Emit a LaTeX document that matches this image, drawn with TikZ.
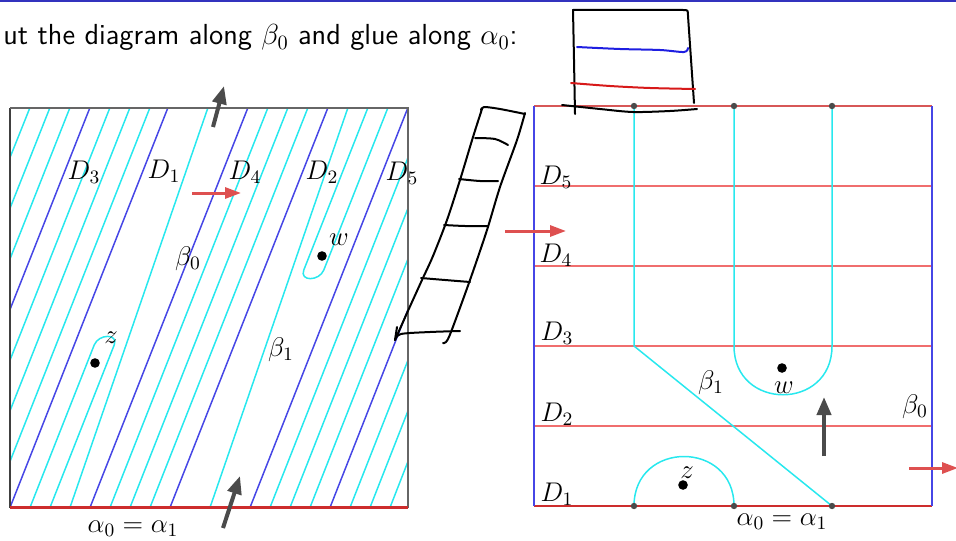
\RequirePackage{fix-cm}
\documentclass[tikz,border=0pt]{standalone}
\usepackage{fontspec}
\usetikzlibrary{arrows.meta}
\definecolor{cyanc}{RGB}{40,232,238}
\definecolor{bluec}{RGB}{70,70,230}
\definecolor{redl}{RGB}{240,110,110}
\definecolor{redd}{RGB}{205,45,45}
\definecolor{grayA}{RGB}{75,75,75}
\definecolor{redA}{RGB}{222,80,80}
\definecolor{topblue}{RGB}{50,50,190}
\definecolor{penblue}{RGB}{30,30,225}
\definecolor{penred}{RGB}{215,25,25}
\begin{document}
\begin{tikzpicture}[x=0.5pt,y=-0.5pt,
  cy/.style={draw=cyanc, line width=0.75pt},
  bl/.style={draw=bluec, line width=0.75pt},
  redline/.style={draw=redl, line width=1pt},
  grayarrow/.style={draw=grayA, line width=2pt, -{Triangle[length=9pt,width=7pt]}},
  redarrow/.style={draw=redA, line width=1.5pt, -{Triangle[length=8pt,width=5.5pt]}},
  pen/.style={draw=black, line width=1pt, line cap=round, line join=round},
  lab/.style={inner sep=0, font=\fontsize{13.5}{16}\selectfont},
  dot/.style={fill=black},
  gdot/.style={fill=grayA}]
\useasboundingbox (0,0) rectangle (956,540);
\draw[topblue, line width=1pt] (0,1) -- (956,1);
\node[anchor=base west, inner sep=0, font=\sffamily\fontsize{14.5}{17}\selectfont] (title) at (3,45) {ut the diagram along $\beta_0$ and glue along $\alpha_0$:};

% ---------- left square ----------
\foreach \b in {10,90,170,250} \draw[bl] (\b,507.5) -- ({\b+158},107.5);
\draw[bl] (330,507.5) -- (408,309.5) (10,309.5) -- (90,107.5);
\foreach \b in {110,130,150} \draw[cy] (\b,507.5) -- ({\b+158},107.5);
\draw[cy] (270,507.5) -- (408,157.6) (10,157.6) -- (30,107.5);
\draw[cy] (290,507.5) -- (408,208.3) (10,208.3) -- (50,107.5);
\draw[cy] (310,507.5) -- (408,258.9) (10,258.9) -- (70,107.5);
\draw[cy] (350,507.5) -- (408,360.2) (10,360.2) -- (110,107.5);
\draw[cy] (370,507.5) -- (408,410.8) (10,410.8) -- (130,107.5);
\draw[cy] (390,507.5) -- (408,461.4) (10,461.4) -- (150,107.5);
% finger around z
\draw[cy] (30,507.5) -- (94.2,345) .. controls (98.8,333.5) and (118.8,333.5) .. (114.2,345) -- (50,507.5);
% drifting strands
\draw[cy] (70,507.5) -- (208,107.5);
\draw[cy] (210,507.5) -- (348,107.5);
% finger around w
\draw[cy] (368,107.5) -- (303.8,270) .. controls (299.2,281.5) and (319.2,281.5) .. (323.8,270) -- (388,107.5);
% frame
\draw[draw=black!75, line width=1pt] (10,507.5) -- (10,107.5);
\draw[draw=black!60, line width=1pt] (10,107.5) -- (408,107.5) -- (408,507.5);
\draw[draw=redd, line width=1.2pt] (10,507.5) -- (408,507.5);

\fill[dot] (95,363) circle[radius=2.4pt];
\fill[dot] (322,256) circle[radius=2.4pt];
\node[lab] (lD3) at (84,172) {$D_3$};
\node[lab] (lD1) at (164,171) {$D_1$};
\node[lab] (lD4) at (245,172) {$D_4$};
\node[lab] (lD2) at (322,172) {$D_2$};
\node[lab] (lD5) at (402,173) {$D_5$};
\node[lab] (lb0) at (188,259) {$\beta_0$};
\node[lab] (lb1) at (281,350) {$\beta_1$};
\node[lab] (lw) at (339,240) {$w$};
\node[lab] (lz) at (111,338) {$z$};
\node[lab] (la) at (133,529) {$\alpha_0=\alpha_1$};

\coordinate (ga1) at (213,127); \coordinate (ga2) at (224,86);
\draw[grayarrow] (ga1) -- (ga2);
\coordinate (gb1) at (223,528); \coordinate (gb2) at (240,476);
\draw[grayarrow] (gb1) -- (gb2);
\coordinate (ra1) at (192,193); \coordinate (ra2) at (241,193);
\draw[redarrow] (ra1) -- (ra2);

% ---------- right square ----------
\foreach \yy in {186,266,346,426} \draw[redline] (534,\yy) -- (932,\yy);
\draw[draw=redd!80, line width=1pt] (534,106) -- (932,106);
\draw[draw=redd, line width=1.2pt] (534,506) -- (932,506);
\draw[bl, line width=1pt] (534,106) -- (534,506);
\draw[bl, line width=1pt] (932,106) -- (932,506);
\draw[cy] (634,106) -- (634,346) -- (832,506);
\draw[cy] (734,106) -- (734,346) .. controls (734,411) and (832,411) .. (832,346) -- (832,106);
\draw[cy] (634,506) .. controls (634,440) and (734,440) .. (734,506);
\foreach \xx in {634,734,832} {\fill[gdot] (\xx,106) circle[radius=1.6pt]; \fill[gdot] (\xx,506) circle[radius=1.6pt];}
\fill[dot] (782,368) circle[radius=2.4pt];
\fill[dot] (683,485) circle[radius=2.4pt];
\node[lab] (rD5) at (556,177) {$D_5$};
\node[lab] (rD4) at (556,255) {$D_4$};
\node[lab] (rD3) at (557,333) {$D_3$};
\node[lab] (rD2) at (557,414) {$D_2$};
\node[lab] (rD1) at (557,494) {$D_1$};
\node[lab] (rb1) at (711,383) {$\beta_1$};
\node[lab] (rw) at (784,388) {$w$};
\node[lab] (rz) at (687,473) {$z$};
\node[lab] (rb0) at (915,407) {$\beta_0$};
\node[lab] (ra) at (782,522) {$\alpha_0=\alpha_1$};
\coordinate (gc1) at (824,456); \coordinate (gc2) at (824,397);
\draw[grayarrow] (gc1) -- (gc2);
\coordinate (rb1a) at (505,231); \coordinate (rb2a) at (566,231);
\draw[redarrow] (rb1a) -- (rb2a);
\coordinate (rc1) at (909,468); \coordinate (rc2) at (958,468);
\draw[redarrow] (rc1) -- (rc2);

% ---------- hand-drawn strokes ----------
\draw[pen] (575,114) -- (574,60) -- (573,10) -- (683,10) .. controls (688,10) .. (688,16) -- (694,103);
\draw[pen, draw=penblue] plot[smooth] coordinates {(577,47) (620,49) (660,50) (684,52) (688,48)};
\draw[pen, draw=penred] plot[smooth] coordinates {(571,83) (610,86) (650,88) (695,89)};
\draw[pen] plot[smooth] coordinates {(562,105) (600,109) (633,112) (670,111) (697,109)};
% ribbon
\draw[pen] plot[smooth] coordinates {(481,110) (484,107) (500,109) (525,114)};
\draw[pen] plot[smooth] coordinates {(525,113) (517,140) (500,187) (487,230) (470,280) (451,332) (446,342) (443,343)};
\draw[pen] plot[smooth] coordinates {(482,109) (473,137) (460,180) (447,220) (433,256) (422,280) (407,313) (395,340)};
\draw[pen] (395,340) -- (397,327);
\draw[pen] plot[smooth] coordinates {(475,138) (495,139) (508,145)};
\draw[pen] plot[smooth] coordinates {(459,179) (480,181) (498,181)};
\draw[pen] plot[smooth] coordinates {(444,225) (465,226) (488,226)};
\draw[pen] plot[smooth] coordinates {(421,278) (445,280) (470,282)};
\draw[pen] plot[smooth] coordinates {(395,340) (401,334) (430,332) (460,331)};
\end{tikzpicture}
\end{document}
